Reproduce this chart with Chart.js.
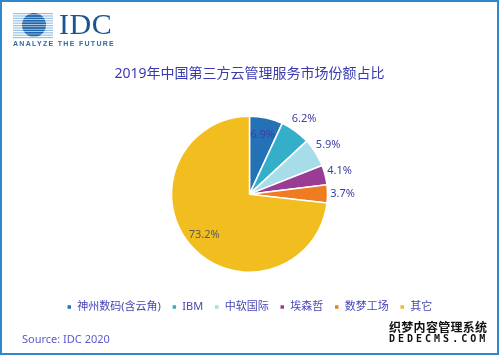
<!DOCTYPE html>
<html>
<head>
<meta charset="utf-8">
<script src="https://cdn.jsdelivr.net/npm/chart.js@4.4.1/dist/chart.umd.min.js"></script>
<style>
  html, body { margin: 0; padding: 0; background: #fff; }
  #wrap { position: relative; width: 499px; height: 355px; overflow: hidden; font-family: "Noto Sans", "Noto Sans CJK SC", sans-serif; }
  #frame { position: absolute; left: 0; top: 0; width: 495px; height: 351px; border: 2px solid #2f87cc; pointer-events: none; }
  #chart { position: absolute; left: 0; top: 0; }
  #logo { position: absolute; left: 12px; top: 12px; }
  #idc { position: absolute; left: 59px; top: 7px; font: 30px "Liberation Serif", serif; color: #1a5592; letter-spacing: 0.5px; }
  #tag { position: absolute; left: 13px; top: 40px; font: 600 7px "Liberation Sans", sans-serif; color: #2f6aa5; letter-spacing: 1.3px; }
  #source { position: absolute; left: 22px; top: 331px; font-size: 11px; color: #5a5acf; }
  #wm { position: absolute; left: 389px; top: 318px; color: #111; font-weight: bold;
        text-shadow: 1px 0 #fff, -1px 0 #fff, 0 1px #fff, 0 -1px #fff; }
  #wm .a { font: bold 12px "Noto Sans CJK SC", sans-serif; letter-spacing: 0.3px; }
  #wm .b { font: bold 10px "DejaVu Sans Mono", monospace; letter-spacing: 3px; margin-top: -2px; }
</style>
</head>
<body>
<div id="wrap">
  <canvas id="chart" width="499" height="355"></canvas>
  <svg id="logo" width="44" height="28" viewBox="0 0 44 28">
    <defs>
      <clipPath id="c"><circle cx="22" cy="13" r="12"/></clipPath>
    </defs>
    <g id="stripes"></g>
  </svg>
  <div id="idc">IDC</div>
  <div id="tag">ANALYZE THE FUTURE</div>
  <div id="source">Source: IDC 2020</div>
  <div id="wm"><div class="a">织梦内容管理系统</div><div class="b">DEDECMS.COM</div></div>
  <div id="frame"></div>
</div>
<script>
// data
const vendors = ['神州数码(含云角)', 'IBM', '中软国际', '埃森哲', '数梦工场', '其它'];
const shares = [6.9, 6.2, 5.9, 4.1, 3.7, 73.2];
const sliceColors = ['#2471b6', '#35afc9', '#a6dde9', '#9a3c94', '#f07c22', '#f2be1f'];
const labelInside = [true, false, false, false, false, true];

// logo stripes
const g = document.getElementById('stripes');
for (let y = 1; y < 26; y += 2.4) {
  const l = document.createElementNS('http://www.w3.org/2000/svg', 'rect');
  l.setAttribute('x', 1); l.setAttribute('y', y); l.setAttribute('width', 40); l.setAttribute('height', 1.2);
  l.setAttribute('fill', '#9cc2e3');
  g.appendChild(l);
  const d = document.createElementNS('http://www.w3.org/2000/svg', 'rect');
  d.setAttribute('x', 0); d.setAttribute('y', y - 0.3); d.setAttribute('width', 44); d.setAttribute('height', 1.8);
  d.setAttribute('fill', '#2066ab'); d.setAttribute('clip-path', 'url(#c)');
  g.appendChild(d);
}

// percentage labels on/around slices
const pctLabels = {
  id: 'pctLabels',
  afterDatasetsDraw(chart) {
    const ctx = chart.ctx;
    const meta = chart.getDatasetMeta(0);
    ctx.save();
    ctx.font = '11px "Noto Sans", "Noto Sans CJK SC", sans-serif';
    ctx.textAlign = 'center';
    ctx.textBaseline = 'middle';
    meta.data.forEach((arc, i) => {
      const mid = (arc.startAngle + arc.endAngle) / 2;
      const r = labelInside[i] ? arc.outerRadius * 0.78 : arc.outerRadius + 15;
      ctx.fillStyle = i === 5 ? '#5a5a5a' : '#3e3eaa';
      ctx.fillText(shares[i].toFixed(1) + '%', arc.x + Math.cos(mid) * r, arc.y + Math.sin(mid) * r);
    });
    ctx.restore();
  }
};

new Chart(document.getElementById('chart'), {
  type: 'pie',
  data: {
    labels: vendors,
    datasets: [{
      data: shares,
      backgroundColor: sliceColors,
      borderColor: '#ffffff',
      borderWidth: 1.5,
      radius: 78
    }]
  },
  options: {
    responsive: false,
    animation: false,
    layout: { padding: { top: 0, bottom: 32.5, left: 0, right: 0 } },
    plugins: {
      tooltip: { enabled: false },
      title: {
        display: true,
        text: '2019年中国第三方云管理服务市场份额占比',
        color: '#3a3ab0',
        font: { size: 14, weight: 'normal', family: '"Noto Sans", "Noto Sans CJK SC", sans-serif' },
        padding: { top: 66, bottom: 15 }
      },
      legend: {
        position: 'bottom',
        labels: {
          boxWidth: 5,
          boxHeight: 5,
          padding: 11,
          color: '#4646b6',
          font: { size: 11, family: '"Noto Sans", "Noto Sans CJK SC", sans-serif' }
        }
      }
    }
  },
  plugins: [pctLabels]
});
</script>
</body>
</html>
